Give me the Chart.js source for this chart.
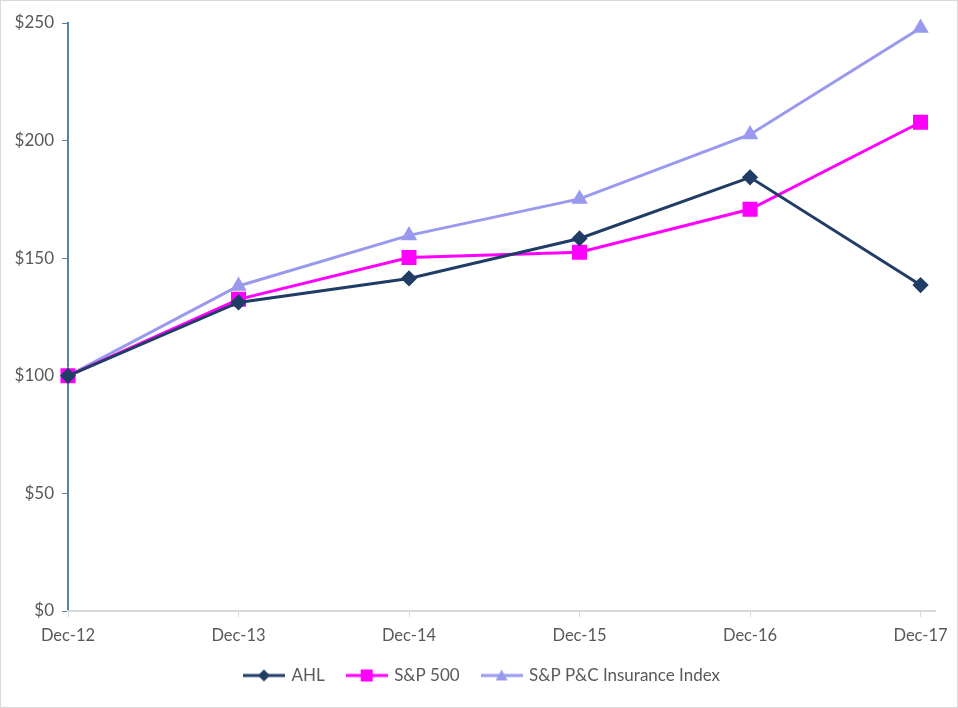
<!DOCTYPE html>
<html>
<head>
<meta charset="utf-8">
<script src="https://cdn.jsdelivr.net/npm/chart.js@4"></script>
<style>
  body { margin: 0; background: #fff; }
  #wrap { width: 958px; height: 708px; border: 1px solid #d9d9d9; box-sizing: border-box; position: relative; }
</style>
</head>
<body>
<div id="wrap"><canvas id="chart"></canvas></div>
<script>
var categories = ["Dec-12", "Dec-13", "Dec-14", "Dec-15", "Dec-16", "Dec-17"];
var ahl = [100, 131.2, 141.4, 158.4, 184.4, 138.6];
var sp500 = [100, 132.5, 150.3, 152.5, 170.8, 207.8];
var pcIndex = [100, 138.2, 159.7, 175.2, 202.6, 247.9];
var yTicks = [0, 50, 100, 150, 200, 250];

var navy = "#203D66";
var magenta = "#FF00FF";
var lavender = "#9999EE";
var textGray = "#595959";

function toPoints(arr) {
  return arr.map(function (v, i) { return { x: i, y: v }; });
}

// little line+marker swatch for the legend
function swatch(color, shape) {
  var c = document.createElement("canvas");
  c.width = 42; c.height = 14;
  var g = c.getContext("2d");
  g.strokeStyle = color; g.fillStyle = color; g.lineWidth = 3;
  g.beginPath(); g.moveTo(0, 7); g.lineTo(42, 7); g.stroke();
  g.beginPath();
  if (shape === "diamond") {
    g.moveTo(21, 1); g.lineTo(27, 7); g.lineTo(21, 13); g.lineTo(15, 7);
  } else if (shape === "square") {
    g.rect(15, 1, 12, 12);
  } else {
    g.moveTo(21, 1); g.lineTo(27, 12); g.lineTo(15, 12);
  }
  g.closePath(); g.fill();
  return c;
}

// nudge the legend a little to the right, like the original
var legendShift = {
  id: "legendShift",
  afterLayout: function (chart) {
    if (chart.legend) {
      chart.legend.left += 14;
      chart.legend.right += 14;
    }
  }
};

var ctx = document.getElementById("chart").getContext("2d");

var data = {
  datasets: [
    {
      label: "AHL",
      data: toPoints(ahl),
      borderColor: navy,
      backgroundColor: navy,
      borderWidth: 3,
      pointStyle: "rectRot",
      pointRadius: 6,
      pointHoverRadius: 6,
      clip: false,
      legendStyle: swatch(navy, "diamond")
    },
    {
      label: "S&P 500",
      data: toPoints(sp500),
      borderColor: magenta,
      backgroundColor: magenta,
      borderWidth: 3,
      pointStyle: "rect",
      pointRadius: 8.5,
      pointHoverRadius: 8.5,
      clip: false,
      legendStyle: swatch(magenta, "square")
    },
    {
      label: "S&P P&C Insurance Index",
      data: toPoints(pcIndex),
      borderColor: lavender,
      backgroundColor: lavender,
      borderWidth: 3,
      pointStyle: "triangle",
      pointRadius: 6.5,
      pointHoverRadius: 6.5,
      clip: false,
      legendStyle: swatch(lavender, "triangle")
    }
  ]
};

var options = {
  responsive: true,
  maintainAspectRatio: false,
  animation: false,
  layout: {
    padding: { top: 22, right: 21, left: 0, bottom: 13 }
  },
  plugins: {
    legend: {
      display: true,
      position: "bottom",
      labels: {
        usePointStyle: true,
        pointStyleWidth: 38,
        boxHeight: 14,
        padding: 23,
        color: textGray,
        font: { family: "Lato", size: 17 },
        generateLabels: function (chart) {
          return chart.data.datasets.map(function (ds, i) {
            return {
              text: ds.label,
              pointStyle: ds.legendStyle,
              fontColor: textGray,
              datasetIndex: i,
              hidden: false,
              lineWidth: 0
            };
          });
        }
      }
    },
    tooltip: { enabled: false }
  },
  scales: {
    y: {
      min: 0,
      max: 250,
      afterBuildTicks: function (scale) {
        scale.ticks = yTicks.map(function (v) { return { value: v }; });
      },
      afterFit: function (scale) { scale.width = 67; },
      ticks: {
        padding: 8,
        color: textGray,
        font: { family: "Lato", size: 17 },
        callback: function (value) { return "$" + value; }
      },
      grid: {
        drawOnChartArea: false,
        drawTicks: true,
        tickLength: 6,
        color: "#5B7FA6"
      },
      border: { color: "#5B7FA6", width: 2 }
    },
    x: {
      type: "linear",
      min: 0,
      max: 5.09,
      afterBuildTicks: function (scale) {
        scale.ticks = categories.map(function (c, i) { return { value: i }; });
      },
      afterFit: function (scale) { scale.height = 33; },
      ticks: {
        maxRotation: 0,
        autoSkip: false,
        padding: 9,
        color: textGray,
        font: { family: "Lato", size: 16.5 },
        callback: function (value) { return categories[value]; }
      },
      grid: {
        drawOnChartArea: false,
        drawTicks: true,
        tickLength: 6,
        color: "#d9d9d9"
      },
      border: { color: "#d9d9d9", width: 2 }
    }
  }
};

var myChart = new Chart(ctx, {
  type: "line",
  data: data,
  options: options,
  plugins: [legendShift]
});
</script>
</body>
</html>
